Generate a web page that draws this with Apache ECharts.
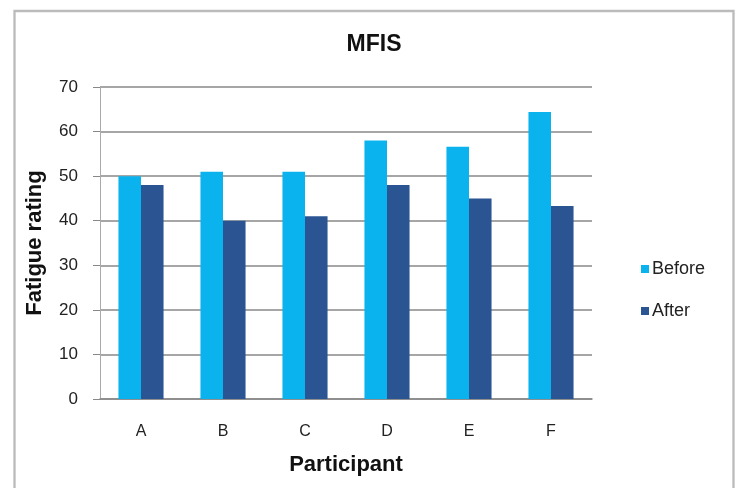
<!DOCTYPE html>
<html><head><meta charset="utf-8">
<script src="https://cdn.jsdelivr.net/npm/echarts@6/dist/echarts.min.js"></script>
<style>html,body{margin:0;padding:0;background:#fff}#c{width:738px;height:488px}</style>
</head><body><div id="c"></div>
<script>
const categories = ['A','B','C','D','E','F'];
const beforeValues = [50, 51, 51, 58, 56.6, 64.4];
const afterValues = [48, 40, 41, 48, 45, 43.3];
const yTicks = {min:0, max:70, interval:10};

const chart = echarts.init(document.getElementById('c'));
chart.setOption({
  animation:false,
  textStyle:{fontFamily:'Liberation Sans, Arial, sans-serif'},
  graphic:[{type:'rect', shape:{x:14.5,y:11,width:719,height:500}, style:{fill:'none', stroke:'#bbbbbb', lineWidth:2.3}, silent:true}],
  title:{text:'MFIS', left:369, top:28, textAlign:'center', textStyle:{fontSize:23, fontWeight:'bold', color:'#111'}},
  legend:{orient:'vertical', left:636, top:255, itemWidth:8, itemHeight:8, itemGap:24, icon:'rect',
    textStyle:{fontSize:18, color:'#222', padding:[0,0,0,-2]}},
  grid:{left:100, right:146, top:87, bottom:89},
  xAxis:{type:'category', data:categories, name:'Participant', nameLocation:'middle', nameGap:55,
    nameTextStyle:{fontSize:22, fontWeight:'bold', color:'#111'},
    axisLine:{lineStyle:{color:'#888', width:1.5}}, axisTick:{show:false},
    axisLabel:{fontSize:16, color:'#222', margin:25}},
  yAxis:{type:'value', min:yTicks.min, max:yTicks.max, interval:yTicks.interval,
    name:'Fatigue rating', nameLocation:'middle', nameGap:54,
    nameTextStyle:{fontSize:22, fontWeight:'bold', color:'#111'},
    axisLine:{show:true, lineStyle:{color:'#aaa', width:1}},
    axisTick:{show:true, length:7, lineStyle:{color:'#888'}},
    axisLabel:{fontSize:17, color:'#222', margin:22},
    splitLine:{lineStyle:{color:'#888', width:1.5}}},
  series:[
    {name:'Before', type:'bar', data:beforeValues, itemStyle:{color:'#0BB3EE'}, barGap:'0%', barCategoryGap:'45%'},
    {name:'After', type:'bar', data:afterValues, itemStyle:{color:'#2A5592'}}
  ]
});
</script></body></html>
